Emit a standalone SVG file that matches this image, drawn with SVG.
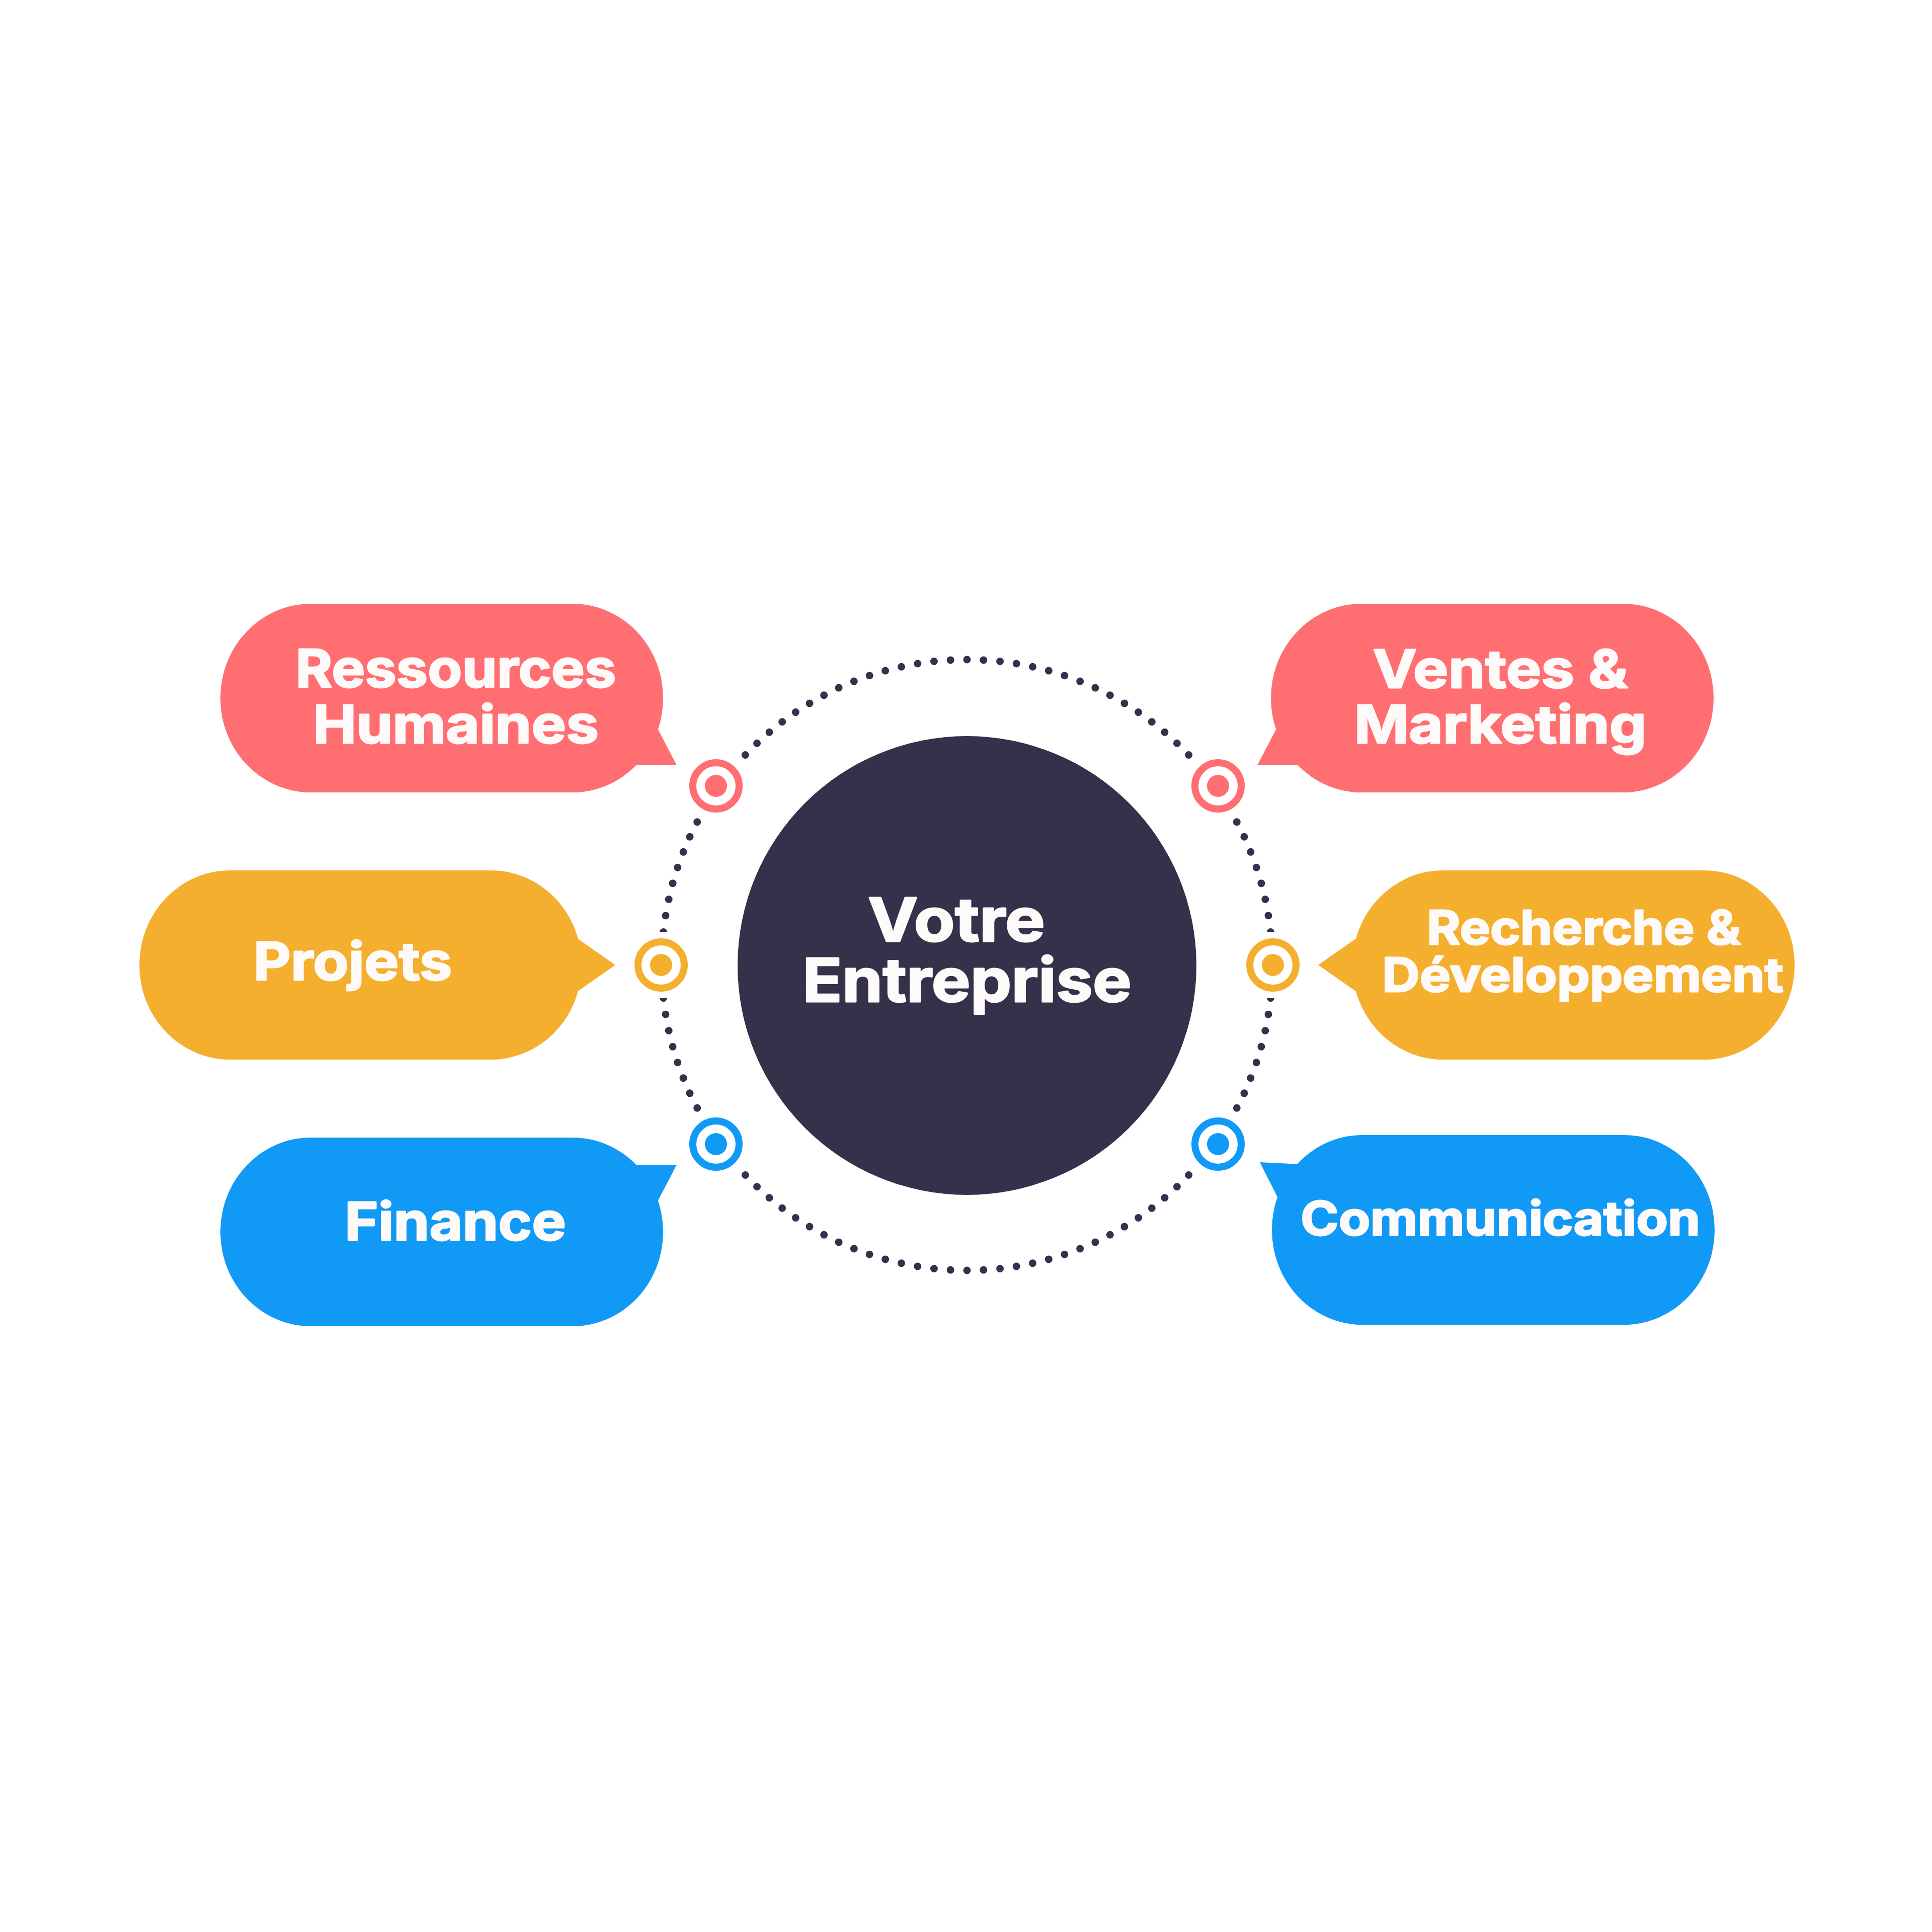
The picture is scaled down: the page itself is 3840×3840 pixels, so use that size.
<svg xmlns="http://www.w3.org/2000/svg" width="3840" height="3840" viewBox="0 0 3840 3840">
<style>
.red{fill:#FF6E71}
.orange{fill:#F4AF2F}
.blue{fill:#1199F6}
.lbl{font-family:Inter,"Liberation Sans",sans-serif;font-weight:700;fill:#FFFAFA;stroke:#FFFAFA;stroke-width:3;stroke-linejoin:round;text-anchor:middle}
.big{font-size:105px}
.mid{font-size:93px}
.ctr{font-size:120px}
.ring{fill:#FFFFFF;stroke-width:14}
</style>
<rect width="3840" height="3840" fill="#FFFFFF"/>
<g id="connectors">
<circle cx="1922" cy="1918" r="607" fill="none" stroke="#34314A" stroke-width="15" stroke-linecap="round" pathLength="116" stroke-dasharray="0 1"/>
</g>
<g id="center">
<circle cx="1922" cy="1919" r="456" fill="#34314A"/>
<text class="lbl ctr" x="1901" y="1871" textLength="352" lengthAdjust="spacingAndGlyphs">Votre</text>
<text class="lbl ctr" x="1922" y="1991" textLength="654" lengthAdjust="spacingAndGlyphs">Entreprise</text>
</g>
<g id="node-rh">
<rect class="red" x="438" y="1200" width="880" height="375" rx="180" ry="187.5"/>
<polygon class="red" points="1308,1450 1345,1521 1262,1521 1200,1450"/>
<text class="lbl big" x="906" y="1366" textLength="637" lengthAdjust="spacingAndGlyphs">Ressources</text>
<text class="lbl big" x="906" y="1477" textLength="568" lengthAdjust="spacingAndGlyphs">Humaines</text>
</g>
<g id="node-ventes">
<rect class="red" x="2526" y="1200" width="880" height="375" rx="180" ry="187.5"/>
<polygon class="red" points="2536,1450 2499,1521 2582,1521 2644,1450"/>
<text class="lbl big" x="2982" y="1367" textLength="507" lengthAdjust="spacingAndGlyphs">Ventes &amp;</text>
<text class="lbl big" x="2982" y="1477" textLength="581" lengthAdjust="spacingAndGlyphs">Marketing</text>
</g>
<g id="node-projets">
<rect class="orange" x="277" y="1730" width="879" height="376" rx="180" ry="188"/>
<polygon class="orange" points="1223,1918 1140,1860 1140,1976"/>
<text class="lbl big" x="701" y="1948" textLength="395" lengthAdjust="spacingAndGlyphs">Projets</text>
</g>
<g id="node-rd">
<rect class="orange" x="2688" y="1730" width="879" height="376" rx="180" ry="188"/>
<polygon class="orange" points="2620,1918 2703,1860 2703,1976"/>
<text class="lbl mid" x="3148" y="1877" textLength="624" lengthAdjust="spacingAndGlyphs">Recherche &amp;</text>
<text class="lbl mid" x="3146" y="1971" textLength="798" lengthAdjust="spacingAndGlyphs">Développement</text>
</g>
<g id="node-finance">
<rect class="blue" x="438" y="2261" width="880" height="375" rx="180" ry="187.5"/>
<polygon class="blue" points="1308,2386 1345,2315 1262,2315 1200,2386"/>
<text class="lbl big" x="905" y="2465" textLength="440" lengthAdjust="spacingAndGlyphs">Finance</text>
</g>
<g id="node-communication">
<rect class="blue" x="2528" y="2256" width="880" height="377" rx="180" ry="188.5"/>
<polygon class="blue" points="2541,2383 2504,2310 2583,2314 2644,2383"/>
<text class="lbl mid" x="2982" y="2455" textLength="794" lengthAdjust="spacingAndGlyphs">Communication</text>
</g>
<g id="target-rh">
<circle cx="1423" cy="1562" r="66" fill="#FFFFFF"/>
<circle class="ring" cx="1423" cy="1562" r="46" stroke="#FF6E71"/>
<circle class="red" cx="1423" cy="1562" r="22"/>
</g>
<g id="target-ventes">
<circle cx="2421" cy="1562" r="66" fill="#FFFFFF"/>
<circle class="ring" cx="2421" cy="1562" r="46" stroke="#FF6E71"/>
<circle class="red" cx="2421" cy="1562" r="22"/>
</g>
<g id="target-projets">
<circle cx="1314" cy="1918" r="66" fill="#FFFFFF"/>
<circle class="ring" cx="1314" cy="1918" r="46" stroke="#F4AF2F"/>
<circle class="orange" cx="1314" cy="1918" r="22"/>
</g>
<g id="target-rd">
<circle cx="2530" cy="1918" r="66" fill="#FFFFFF"/>
<circle class="ring" cx="2530" cy="1918" r="46" stroke="#F4AF2F"/>
<circle class="orange" cx="2530" cy="1918" r="22"/>
</g>
<g id="target-finance">
<circle cx="1423" cy="2274" r="66" fill="#FFFFFF"/>
<circle class="ring" cx="1423" cy="2274" r="46" stroke="#1199F6"/>
<circle class="blue" cx="1423" cy="2274" r="22"/>
</g>
<g id="target-communication">
<circle cx="2421" cy="2274" r="66" fill="#FFFFFF"/>
<circle class="ring" cx="2421" cy="2274" r="46" stroke="#1199F6"/>
<circle class="blue" cx="2421" cy="2274" r="22"/>
</g>
</svg>
